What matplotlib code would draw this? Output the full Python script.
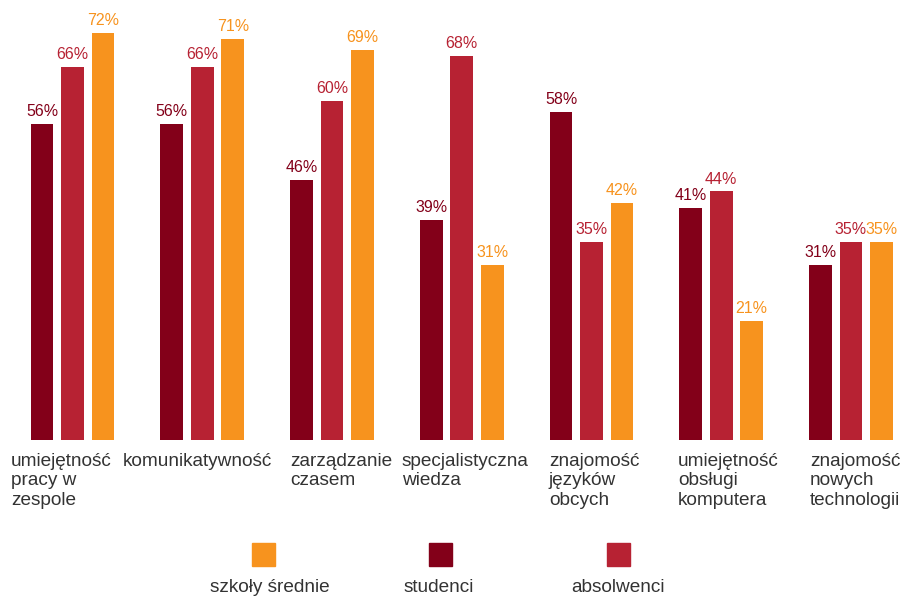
import numpy as np
from matplotlib import pyplot as plt
from matplotlib.patches import Rectangle

# umiejetnosci wg grup
kategorie = ["umiejętność\npracy w\nzespole", "komunikatywność", "zarządzanie\nczasem",
             "specjalistyczna\nwiedza", "znajomość\njęzyków\nobcych",
             "umiejętność\nobsługi\nkomputera", "znajomość\nnowych\ntechnologii"]
studenci = [56, 56, 46, 39, 58, 41, 31]
absolwenci = [66, 66, 60, 68, 35, 44, 35]
szkoly_srednie = [72, 71, 69, 31, 42, 21, 35]

kolor_stud = "#830019"
kolor_abs = "#b72233"
kolor_szk = "#f7931e"
tekst = "#333333"
plt.rcParams['font.family'] = ['Liberation Sans', 'DejaVu Sans']

fig = plt.figure(figsize=(9.03, 5.97), dpi=100)
ax = fig.add_axes([0, 157 / 597, 1, 440 / 597])

x = np.arange(len(kategorie))
w = 0.177
krok = 0.235
serie = [(studenci, kolor_stud, -krok), (absolwenci, kolor_abs, 0), (szkoly_srednie, kolor_szk, krok)]
for vals, col, off in serie:
    bars = ax.bar(x + off, vals, width=w, color=col)
    for b, v in zip(bars, vals):
        ax.annotate(f"{v}%", (b.get_x() + b.get_width() / 2, v), xytext=(0, 3.5),
                    textcoords="offset points", ha="center", va="bottom",
                    fontsize=11.5, color=col)

ax.set_xlim(-72.5 / 129.75, (903 - 72.5) / 129.75)
ax.set_ylim(0, 440 / 5.65)
ax.axis("off")

# etykiety kategorii (wyrownane do lewej)
przesuniecie = [-0.474, -0.611, -0.324, -0.461, -0.328, -0.333, -0.316]
for xi, kat, p in zip(x, kategorie, przesuniecie):
    ax.annotate(kat, (xi + p, 0), xytext=(0, -9), textcoords="offset points",
                ha="left", va="top", fontsize=13.7, color=tekst, linespacing=1.2)

# legenda: kwadrat nad napisem
legenda = [("szkoły średnie", kolor_szk, 263.5, 270), ("studenci", kolor_stud, 440.5, 439),
           ("absolwenci", kolor_abs, 618.5, 618)]
for nazwa, col, px, tx in legenda:
    fig.add_artist(Rectangle(((px - 11.5) / 903, (597 - 566) / 597), 23 / 903, 23 / 597,
                             transform=fig.transFigure, color=col))
    fig.text(tx / 903, (597 - 588) / 597, nazwa, ha="center", va="center",
             fontsize=13.7, color=tekst)

fig.savefig("out.png", dpi=100)
